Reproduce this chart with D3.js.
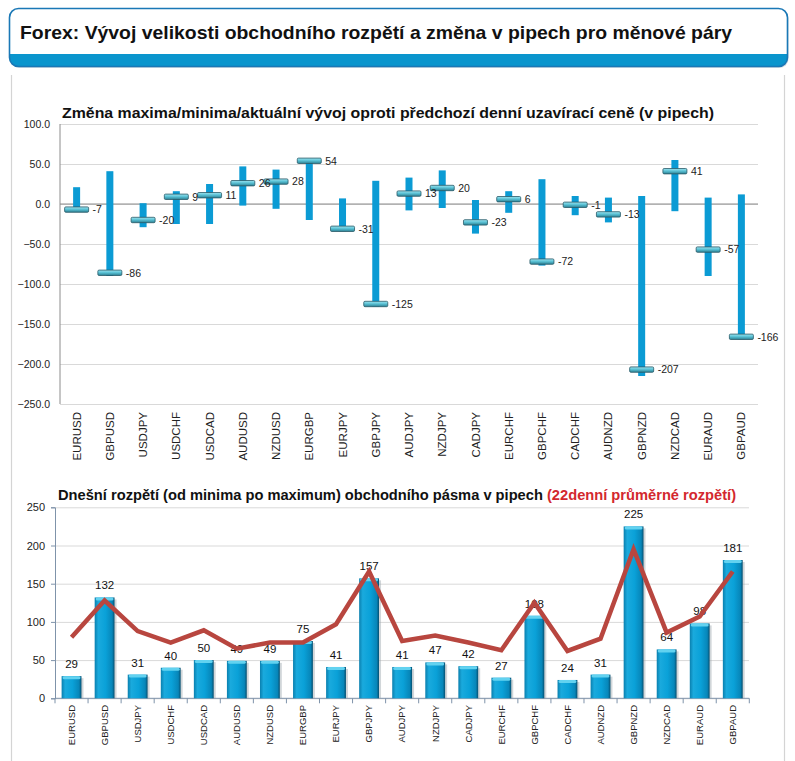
<!DOCTYPE html>
<html>
<head>
<meta charset="utf-8">
<script src="https://cdn.jsdelivr.net/npm/d3@7"></script>
<style>
  body { margin: 0; background: #fff; }
  svg { display: block; }
  text { font-family: "Liberation Sans", Arial, sans-serif; }
</style>
</head>
<body>
<div class="chart"></div>
<script>
// currency pairs (same order in both charts)
const pairs = ["EURUSD", "GBPUSD", "USDJPY", "USDCHF", "USDCAD", "AUDUSD", "NZDUSD", "EURGBP", "EURJPY", "GBPJPY",
  "AUDJPY", "NZDJPY", "CADJPY", "EURCHF", "GBPCHF", "CADCHF", "AUDNZD", "GBPNZD", "NZDCAD", "EURAUD", "GBPAUD"];
// top chart: daily high / low / current vs previous close (pips)
const highs = [21, 41, 1, 16, 25, 47, 43, 55, 7, 29, 33, 42, 5, 16, 31, 10, 8, 10, 55, 8, 12];
const lows = [-9, -90, -29, -25, -25, -2, -6, -20, -34, -128, -8, -5, -37, -11, -77, -14, -23, -215, -9, -90, -169];
const current = [-7, -86, -20, 9, 11, 26, 28, 54, -31, -125, 13, 20, -23, 6, -72, -1, -13, -207, 41, -57, -166];
const topTicks = [100, 50, 0, -50, -100, -150, -200, -250];
// bottom chart: today's range and 22 day average range (pips)
const ranges = [29, 132, 31, 40, 50, 49, 49, 75, 41, 157, 41, 47, 42, 27, 108, 24, 31, 225, 64, 98, 181];
const avgRanges = [80, 128, 88, 73, 89, 65, 73, 73, 97, 166, 75, 82, 73, 63, 125, 62, 78, 195, 86, 107, 166];
const bottomTicks = [0, 50, 100, 150, 200, 250];

const svg = d3.select(".chart").append("svg")
  .attr("width", 795)
  .attr("height", 761);
const defs = svg.append("defs");

// ---------- header box ----------
defs.append("clipPath").attr("id", "hdrClip")
  .append("rect").attr("x", 9.5).attr("y", 8.5).attr("width", 778).attr("height", 58).attr("rx", 9);
svg.append("rect")
  .attr("x", 10.5).attr("y", 10).attr("width", 778).attr("height", 58).attr("rx", 9)
  .attr("fill", "#b8c4cc").attr("opacity", 0.6);
svg.append("rect")
  .attr("x", 9.5).attr("y", 8.5).attr("width", 778).attr("height", 58).attr("rx", 9)
  .attr("fill", "#fff");
svg.append("rect")
  .attr("clip-path", "url(#hdrClip)")
  .attr("x", 0).attr("y", 54).attr("width", 795).attr("height", 20)
  .attr("fill", "#0a95cd");
svg.append("rect")
  .attr("x", 9.5).attr("y", 8.5).attr("width", 778).attr("height", 58).attr("rx", 9)
  .attr("fill", "none").attr("stroke", "#1a78b6").attr("stroke-width", 1.6);
svg.append("text")
  .attr("x", 20).attr("y", 39)
  .attr("font-size", 18.5).attr("font-weight", "bold").attr("fill", "#111")
  .attr("textLength", 712).attr("lengthAdjust", "spacingAndGlyphs")
  .text("Forex: Vývoj velikosti obchodního rozpětí a změna v pipech pro měnové páry");

// panel frame
svg.append("path")
  .attr("d", "M11.5,761 V75 M784.5,761 V75")
  .attr("stroke", "#d4d4d4").attr("stroke-width", 1.2).attr("fill", "none");

// ---------- top chart ----------
const x1 = d3.scaleBand().domain(pairs).range([60, 758]);
const y1 = d3.scaleLinear().domain([-250, 100]).range([404, 124]);
const g1 = svg.append("g");

g1.append("text")
  .attr("x", 62).attr("y", 118)
  .attr("font-size", 15).attr("font-weight", "bold").attr("fill", "#111")
  .attr("textLength", 652).attr("lengthAdjust", "spacingAndGlyphs")
  .text("Změna maxima/minima/aktuální vývoj oproti předchozí denní uzavírací ceně (v pipech)");

g1.append("g")
  .attr("transform", "translate(60,0)")
  .call(d3.axisLeft(y1).tickValues(topTicks).tickSize(-698).tickFormat(d3.format(".1f")))
  .call(g => g.select(".domain").remove())
  .call(g => g.selectAll(".tick line").attr("stroke", "#d9d9d9"))
  .call(g => g.selectAll(".tick text").attr("x", -10).attr("font-size", 10.5).attr("fill", "#222")
    .style("font-family", "'Liberation Sans', Arial, sans-serif"));

g1.append("line")
  .attr("x1", 60).attr("x2", 758).attr("y1", y1(0)).attr("y2", y1(0))
  .attr("stroke", "#8c8c8c");
g1.append("line")
  .attr("x1", 60).attr("x2", 60).attr("y1", y1(100)).attr("y2", y1(-250))
  .attr("stroke", "#8c8c8c");

g1.append("g")
  .attr("transform", "translate(0,412)")
  .call(d3.axisBottom(x1).tickSize(0))
  .call(g => g.select(".domain").remove())
  .call(g => g.selectAll(".tick text")
    .attr("x", 0).attr("y", 0).attr("dy", "0.35em")
    .attr("transform", "rotate(-90)")
    .attr("text-anchor", "end")
    .attr("font-size", 11.5).attr("fill", "#222")
    .style("font-family", "'Liberation Sans Narrow', 'Arial Narrow', sans-serif"));

const capGrad = defs.append("linearGradient").attr("id", "capGrad")
  .attr("x1", 0).attr("y1", 0).attr("x2", 0).attr("y2", 1);
capGrad.append("stop").attr("offset", "0%").attr("stop-color", "#9fe3ef");
capGrad.append("stop").attr("offset", "45%").attr("stop-color", "#5cc3d6");
capGrad.append("stop").attr("offset", "100%").attr("stop-color", "#2b7f92");

const cx1 = d => x1(d) + x1.bandwidth() / 2;

g1.selectAll(".range")
  .data(pairs)
  .join("rect")
  .attr("class", "range")
  .attr("x", d => cx1(d) - 3.5)
  .attr("width", 7)
  .attr("y", (d, i) => y1(highs[i]))
  .attr("height", (d, i) => y1(lows[i]) - y1(highs[i]))
  .attr("fill", "#0b9bd4");

g1.selectAll(".cap")
  .data(pairs)
  .join("rect")
  .attr("class", "cap")
  .attr("x", d => cx1(d) - 12)
  .attr("width", 24)
  .attr("y", (d, i) => y1(current[i]) - 2.7)
  .attr("height", 5.4)
  .attr("rx", 1.2)
  .attr("fill", "url(#capGrad)")
  .attr("stroke", "#2a5a68").attr("stroke-width", 0.8);

g1.selectAll(".curLabel")
  .data(pairs)
  .join("text")
  .attr("class", "curLabel")
  .attr("x", d => cx1(d) + 16)
  .attr("y", (d, i) => y1(current[i]))
  .attr("dy", "0.36em")
  .attr("font-size", 10.5).attr("fill", "#222")
  .text((d, i) => current[i]);

// ---------- bottom chart ----------
const x2 = d3.scaleBand().domain(pairs).range([55, 749.3]).paddingInner(0.4).paddingOuter(0.2);
const y2 = d3.scaleLinear().domain([0, 250]).range([698.3, 507.3]);
const g2 = svg.append("g");

const t2 = g2.append("text")
  .attr("x", 58).attr("y", 500)
  .attr("font-size", 14).attr("font-weight", "bold").attr("fill", "#111");
t2.append("tspan").text("Dnešní rozpětí (od minima po maximum) obchodního pásma v pipech ");
t2.append("tspan").attr("fill", "#d3282e").text("(22denní průměrné rozpětí)");
// squeeze to the width seen in the picture
const t2w = t2.node().getComputedTextLength();
if (t2w > 0) t2.attr("transform", `translate(58,0) scale(${679 / t2w},1) translate(-58,0)`);

g2.append("g")
  .attr("transform", "translate(55,0)")
  .call(d3.axisLeft(y2).tickValues(bottomTicks).tickSize(-694))
  .call(g => g.select(".domain").remove())
  .call(g => g.selectAll(".tick line").attr("stroke", "#d9d9d9"))
  .call(g => g.selectAll(".tick text").attr("x", -10).attr("font-size", 11).attr("fill", "#222")
    .style("font-family", "'Liberation Sans', Arial, sans-serif"));

g2.append("g")
  .attr("transform", "translate(55,0)")
  .call(d3.axisLeft(y2).tickValues(bottomTicks).tickSize(4).tickFormat(""))
  .call(g => g.select(".domain").attr("stroke", "#7f93aa"))
  .call(g => g.selectAll(".tick line").attr("stroke", "#7f93aa"));

g2.append("line")
  .attr("x1", 55).attr("x2", 749.3).attr("y1", y2(0)).attr("y2", y2(0))
  .attr("stroke", "#7f93aa");
g2.selectAll(".xtick")
  .data(d3.range(pairs.length + 1))
  .join("line")
  .attr("class", "xtick")
  .attr("x1", i => 55 + i * x2.step()).attr("x2", i => 55 + i * x2.step())
  .attr("y1", y2(0)).attr("y2", y2(0) + 5)
  .attr("stroke", "#7f93aa");

g2.append("g")
  .attr("transform", "translate(0,705)")
  .call(d3.axisBottom(x2).tickSize(0))
  .call(g => g.select(".domain").remove())
  .call(g => g.selectAll(".tick text")
    .attr("x", 0).attr("y", 0).attr("dy", "0.35em")
    .attr("transform", "rotate(-90)")
    .attr("text-anchor", "end")
    .attr("font-size", 9.5).attr("fill", "#222")
    .style("font-family", "'Liberation Sans Narrow', 'Arial Narrow', sans-serif"));

const barGrad = defs.append("linearGradient").attr("id", "barGrad")
  .attr("x1", 0).attr("y1", 0).attr("x2", 1).attr("y2", 0);
barGrad.append("stop").attr("offset", "0%").attr("stop-color", "#0a7fae");
barGrad.append("stop").attr("offset", "18%").attr("stop-color", "#1aaadd");
barGrad.append("stop").attr("offset", "55%").attr("stop-color", "#0aa1d8");
barGrad.append("stop").attr("offset", "88%").attr("stop-color", "#0786b9");
barGrad.append("stop").attr("offset", "100%").attr("stop-color", "#054f70");

// soft shadow, bar, and top highlight
g2.selectAll(".barShadow")
  .data(pairs)
  .join("rect")
  .attr("class", "barShadow")
  .attr("x", d => x2(d) + 2)
  .attr("width", x2.bandwidth())
  .attr("y", (d, i) => y2(ranges[i]) + 2)
  .attr("height", (d, i) => y2(0) - y2(ranges[i]) - 2)
  .attr("fill", "#9aa4ab").attr("opacity", 0.45);

g2.selectAll(".bar")
  .data(pairs)
  .join("rect")
  .attr("class", "bar")
  .attr("x", d => x2(d))
  .attr("width", x2.bandwidth())
  .attr("y", (d, i) => y2(ranges[i]))
  .attr("height", (d, i) => y2(0) - y2(ranges[i]))
  .attr("fill", "url(#barGrad)");

g2.selectAll(".barTop")
  .data(pairs)
  .join("rect")
  .attr("class", "barTop")
  .attr("x", d => x2(d) + 1)
  .attr("width", x2.bandwidth() - 2)
  .attr("y", (d, i) => y2(ranges[i]))
  .attr("height", 3)
  .attr("rx", 1.5)
  .attr("fill", "#62d2f0");

g2.selectAll(".rangeLabel")
  .data(pairs)
  .join("text")
  .attr("class", "rangeLabel")
  .attr("x", d => x2(d) + x2.bandwidth() / 2)
  .attr("y", (d, i) => y2(ranges[i]) - 8)
  .attr("text-anchor", "middle")
  .attr("font-size", 11.5).attr("fill", "#111")
  .text((d, i) => ranges[i]);

const avgLine = d3.line()
  .x((d, i) => x2(pairs[i]) + x2.bandwidth() / 2)
  .y(d => y2(d));
g2.append("path")
  .datum(avgRanges)
  .attr("fill", "none")
  .attr("stroke", "#b8463f")
  .attr("stroke-width", 4.5)
  .attr("stroke-linejoin", "miter")
  .attr("d", avgLine);
</script>
</body>
</html>
